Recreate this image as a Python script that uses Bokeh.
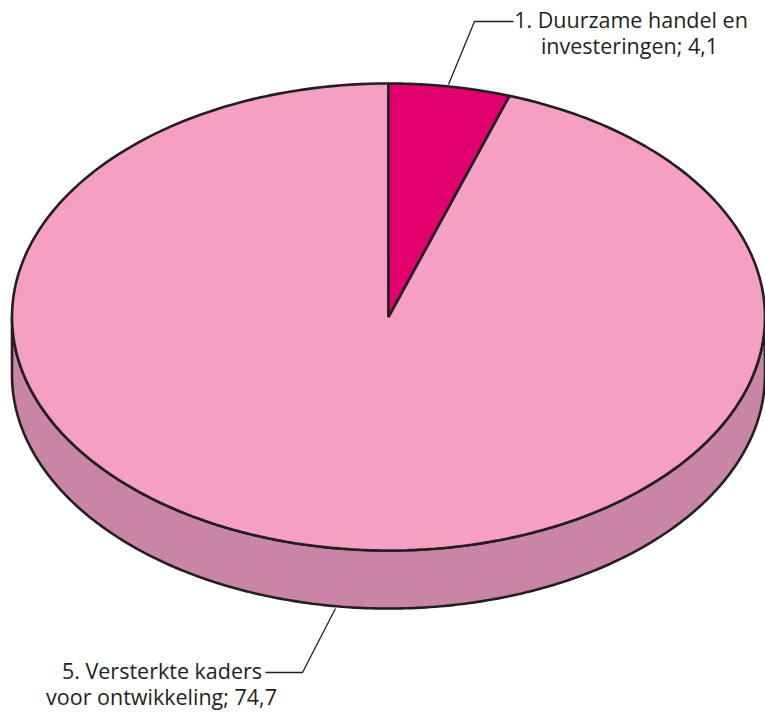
import numpy as np
from bokeh.plotting import figure
from bokeh.embed import file_html
from bokeh.resources import INLINE
from bokeh.core.properties import value

labels_1 = ["1. Duurzame handel en", "investeringen; 4,1"]
labels_5 = ["5. Versterkte kaders", "voor ontwikkeling; 74,7"]
values = [4.1, 74.7]
colors = ["#E2006F", "#F59FC3"]
side_color = "#C985A6"
ink = "#231F20"

CX, CY, RX, RY, DEPTH = 388, 316.5, 376.5, 233.5, 58

W, H = 765, 716
p = figure(width=W, height=H, x_range=(0, W), y_range=(H, 0),
           output_backend="svg", toolbar_location=None, min_border=0,
           x_axis_type="linear", outline_line_color=None)
p.axis.visible = False
p.grid.visible = False
p.background_fill_color = "white"
p.border_fill_color = "white"


def arc(a0, a1, n=240):
    t = np.radians(np.linspace(a0, a1, n))
    return CX + RX * np.sin(t), CY - RY * np.cos(t)


# side wall of the disc
xa, ya = arc(90, 270)
p.patch(np.r_[xa, xa[::-1]], np.r_[ya + DEPTH, ya[::-1]],
        fill_color=side_color, line_color=ink, line_width=2.6)

# top face, slice angles from the values
total = sum(values)
a_split = 360 * values[0] / total
x1, y1 = arc(0, a_split)
x2, y2 = arc(a_split, 360)
p.patch(np.r_[CX, x2], np.r_[CY, y2], fill_color=colors[1], line_color=ink, line_width=2.6)
p.patch(np.r_[CX, x1], np.r_[CY, y1], fill_color=colors[0], line_color=ink, line_width=2.6)

# leaders
p.line([448, 474, 513], [84, 21, 21], line_color=ink, line_width=1.3)
p.line([335, 302, 265], [608, 672, 672], line_color=ink, line_width=1.3)

font = value("Open Sans")
common = dict(text_font=font, text_font_size="21.5px", text_color=ink,
              text_baseline="middle", text_align="center")
p.text([630.5, 629], [18.5, 44.5], text=labels_1, **common)
p.text([161.5, 161], [669.5, 696], text=labels_5, **common)

open("out.html", "w").write(file_html(p, INLINE))
